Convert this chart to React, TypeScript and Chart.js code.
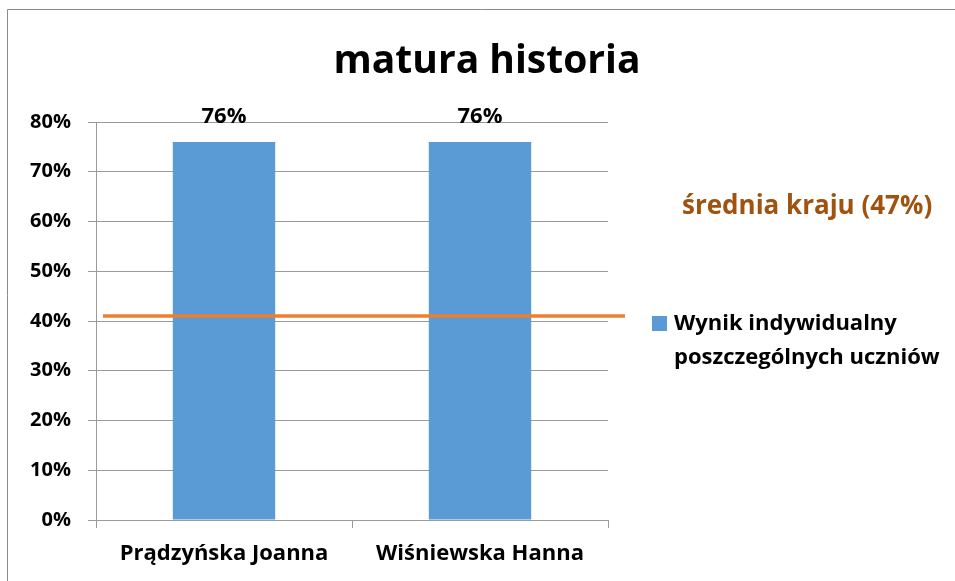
import React, { useEffect, useRef } from "react";
import { Chart, registerables } from "chart.js";

Chart.register(...registerables);

const chartTitle = "matura historia";
const categories = ["Prądzyńska Joanna", "Wiśniewska Hanna"];
const scores = [76, 76];
const seriesLabelLines = ["Wynik indywidualny", "poszczególnych uczniów"];
const averageLineValue = 41;
const averageLabel = "średnia kraju (47%)";
const yMin = 0;
const yMax = 80;
const yStep = 10;

const FONT = "'Open Sans', sans-serif";
const BAR_COLOR = "#5B9BD5";
const LINE_COLOR = "#ED7D31";
const AVG_TEXT_COLOR = "#A0520F";
const GRID_COLOR = "#9A9A9A";

const decorPlugin = {
  id: "decor",
  afterDatasetsDraw(chart: any) {
    const { ctx, chartArea, scales } = chart;
    const y = scales.y;
    ctx.save();
    const ly = y.getPixelForValue(averageLineValue);
    ctx.strokeStyle = LINE_COLOR;
    ctx.lineWidth = 3.5;
    ctx.beginPath();
    ctx.moveTo(chartArea.left + 7, ly);
    ctx.lineTo(chartArea.right + 17, ly);
    ctx.stroke();
    ctx.restore();
  },
  afterDraw(chart: any) {
    const { ctx } = chart;
    ctx.save();
    ctx.strokeStyle = "#8A8A8A";
    ctx.lineWidth = 1;
    ctx.beginPath();
    ctx.moveTo(7.5, 581);
    ctx.lineTo(7.5, 9.5);
    ctx.lineTo(955, 9.5);
    ctx.stroke();

    ctx.fillStyle = "#000";
    ctx.font = `bold 39px ${FONT}`;
    ctx.textAlign = "center";
    ctx.textBaseline = "middle";
    ctx.fillText(chartTitle, 487, 62);

    const meta = chart.getDatasetMeta(0);
    ctx.font = `bold 22px ${FONT}`;
    ctx.textBaseline = "alphabetic";
    meta.data.forEach((bar: any, i: number) => {
      ctx.fillText(`${scores[i]}%`, bar.x, bar.y - 19);
    });

    ctx.fillStyle = AVG_TEXT_COLOR;
    ctx.font = `bold 26px ${FONT}`;
    ctx.textAlign = "left";
    ctx.textBaseline = "middle";
    ctx.fillText(averageLabel, 682, 207);

    ctx.fillStyle = BAR_COLOR;
    ctx.fillRect(652, 316, 15, 15);
    ctx.fillStyle = "#000";
    ctx.font = `bold 22px ${FONT}`;
    seriesLabelLines.forEach((line, i) => {
      ctx.fillText(line, 674, 324 + i * 34);
    });
    ctx.restore();
  },
};

export default function App() {
  const ref = useRef<HTMLCanvasElement>(null);
  useEffect(() => {
    if (!ref.current) return;
    const chart = new Chart(ref.current, {
      type: "bar",
      data: {
        labels: categories,
        datasets: [
          {
            label: seriesLabelLines.join(" "),
            data: scores,
            backgroundColor: BAR_COLOR,
            categoryPercentage: 1,
            barPercentage: 0.4,
          },
        ],
      },
      options: {
        animation: false,
        responsive: false,
        layout: { padding: { left: 0, right: 347, top: 122, bottom: 0 } },
        plugins: {
          legend: { display: false },
          title: { display: false },
          tooltip: { enabled: false },
        },
        scales: {
          x: {
            afterFit: (s: any) => {
              s.height = 61;
            },
            grid: {
              display: true,
              drawOnChartArea: false,
              drawTicks: true,
              tickLength: 8,
              color: GRID_COLOR,
              offset: true,
            },
            border: { display: true, color: GRID_COLOR },
            ticks: {
              color: "#000",
              font: { family: FONT, size: 22, weight: "bold" },
              padding: 13,
            },
          },
          y: {
            min: yMin,
            max: yMax,
            afterFit: (s: any) => {
              s.width = 96;
            },
            grid: { color: GRID_COLOR, tickLength: 8 },
            border: { display: true, color: GRID_COLOR },
            ticks: {
              stepSize: yStep,
              color: "#000",
              font: { family: FONT, size: 20, weight: "bold" },
              padding: 17,
              callback: (v: any) => `${v}%`,
            },
          },
        },
      },
      plugins: [decorPlugin],
    });
    return () => chart.destroy();
  }, []);
  return (
    <div style={{ position: "absolute", left: 0, top: 0, width: 955, height: 581, background: "#fff" }}>
      <canvas ref={ref} width={955} height={581} />
    </div>
  );
}
